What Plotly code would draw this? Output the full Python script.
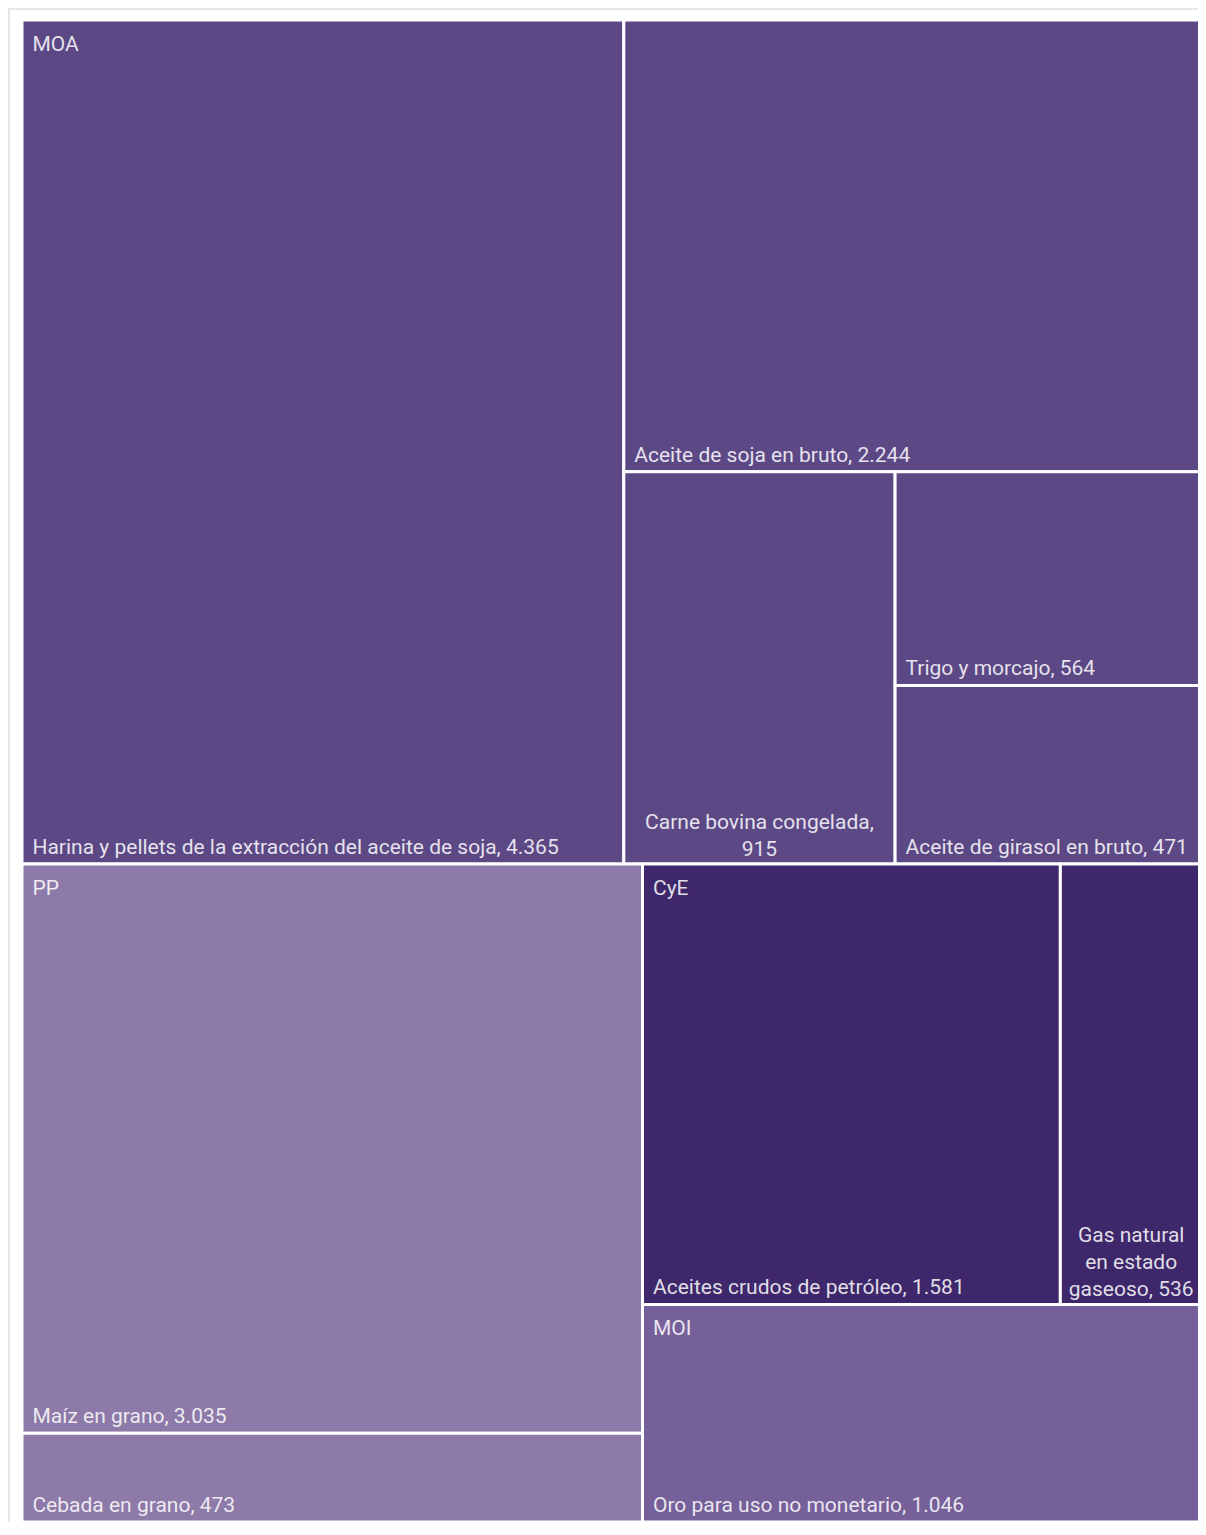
import plotly.graph_objects as go

# ---------------- data ----------------
groups = ["MOA", "PP", "CyE", "MOI"]
group_colors = ["#5D4886", "#8D7AA8", "#3E276A", "#76609A"]

products = [
    "Harina y pellets de la extracción del aceite de soja",
    "Aceite de soja en bruto",
    "Carne bovina congelada",
    "Trigo y morcajo",
    "Aceite de girasol en bruto",
    "Maíz en grano",
    "Cebada en grano",
    "Aceites crudos de petróleo",
    "Gas natural en estado gaseoso",
    "Oro para uso no monetario",
]
product_group = ["MOA", "MOA", "MOA", "MOA", "MOA", "PP", "PP", "CyE", "CyE", "MOI"]
values = [4365, 2244, 915, 564, 471, 3035, 473, 1581, 536, 1046]
# labels that are shown wrapped over several centred lines
wrapped_labels = {
    "Carne bovina congelada": "Carne bovina congelada,<br>{v}",
    "Gas natural en estado gaseoso": "Gas natural<br>en estado<br>gaseoso, {v}",
}

# ---------------- styling ----------------
FONT = "Roboto"
FSIZE = 21
TXT_COLOR = "rgba(255,255,255,0.86)"
INSET = "<span style='font-size:30px'>\u00a0</span>"  # small inner padding of labels
W, H = 1198, 1514
M = dict(l=14, r=4, t=12, b=0)


def fmt(v):
    return f"{v:,}".replace(",", ".")


group_sums = [sum(v for v, pg in zip(values, product_group) if pg == g) for g in groups]

ids, labels, parents, vals, colors = [], [], [], [], []
main_text, wrap_text = [], []
for g, c, s in zip(groups, group_colors, group_sums):
    ids.append(g); labels.append(g); parents.append(""); vals.append(s)
    colors.append(c); main_text.append(""); wrap_text.append("")
for p, pg, v in zip(products, product_group, values):
    ids.append(pg + "/" + p); labels.append(p); parents.append(pg); vals.append(v)
    colors.append(group_colors[groups.index(pg)])
    if p in wrapped_labels:
        main_text.append("")
        wrap_text.append(wrapped_labels[p].format(v=fmt(v)))
    else:
        main_text.append(INSET + p + ", " + fmt(v))
        wrap_text.append("")

common = dict(branchvalues="total", sort=True, hoverinfo="skip",
              pathbar=dict(visible=False),
              tiling=dict(packing="squarify", squarifyratio=1, pad=0),
              textfont=dict(family=FONT, size=FSIZE, color=TXT_COLOR))

# main tiles with bottom-left labels
t_main = go.Treemap(
    ids=ids, labels=labels, parents=parents, values=vals,
    text=main_text, texttemplate="%{text}", textinfo="text",
    textposition="bottom left",
    marker=dict(colors=colors, line=dict(color="white", width=3),
                pad=dict(t=0, l=0, r=0, b=0)),
    root=dict(color="white"),
    **common,
)
# transparent copy for the wrapped, centred labels
t_wrap = go.Treemap(
    ids=ids, labels=labels, parents=parents, values=vals,
    text=wrap_text, texttemplate="%{text}", textinfo="text",
    textposition="bottom center",
    marker=dict(colors=["rgba(0,0,0,0)"] * len(ids), line=dict(width=0),
                pad=dict(t=0, l=0, r=0, b=0)),
    root=dict(color="rgba(0,0,0,0)"),
    **common,
)
# transparent group level for the group names (top left)
t_groups = go.Treemap(
    ids=groups, labels=groups, parents=[""] * len(groups), values=group_sums,
    text=[INSET + g for g in groups], texttemplate="%{text}", textinfo="text",
    textposition="top left",
    marker=dict(colors=["rgba(0,0,0,0)"] * len(groups), line=dict(width=0),
                pad=dict(t=0, l=0, r=0, b=0)),
    root=dict(color="rgba(0,0,0,0)"),
    **common,
)

fig = go.Figure([t_main, t_wrap, t_groups])
pw = W - M["l"] - M["r"]
ph = H - M["t"] - M["b"]
fig.update_layout(
    width=W, height=H, margin=M,
    paper_bgcolor="white",
    separators=",.",
    shapes=[dict(type="rect", xref="paper", yref="paper",
                 x0=-(M["l"] - 1) / pw, x1=1 + 20 / pw,
                 y0=-20 / ph, y1=1 + (M["t"] - 1) / ph,
                 line=dict(color="#E6E6E6", width=2), layer="below")],
)
fig.write_html("out.html")
